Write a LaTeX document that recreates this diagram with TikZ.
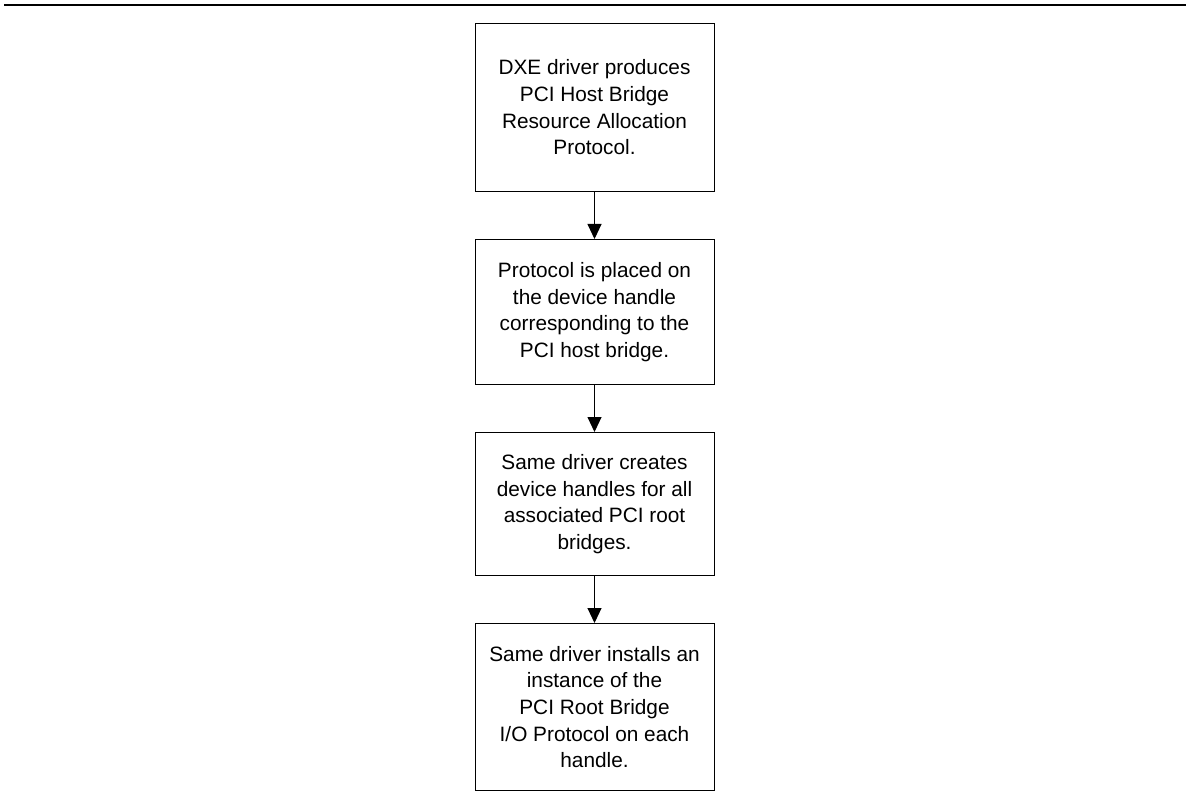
\documentclass[tikz,border=0pt]{standalone}
\usepackage{fontspec}
\setmainfont{Liberation Sans}
\usepackage{tikz}
\usetikzlibrary{arrows.meta, positioning}

\begin{document}
\begin{tikzpicture}[x=0.5pt, y=-0.5pt,
  stepbox/.style={draw, line width=0.5pt, minimum width=119.5pt, inner sep=0pt,
    align=center, font=\fontsize{10.4pt}{13.35pt}\selectfont},
  flow/.style={-{Triangle[length=7.5pt, width=7pt]}, line width=0.5pt}]
  \useasboundingbox (0,0) rectangle (1186,807);
  \draw[line width=1pt] (4,5) -- (1186,5);

  \node[stepbox, minimum height=84pt, anchor=north] (produce) at (594.5,23)
    {DXE driver produces\\PCI Host Bridge\\Resource Allocation\\Protocol.};
  \node[stepbox, minimum height=72.5pt, below=23.5pt of produce] (place)
    {Protocol is placed on\\the device handle\\corresponding to the\\PCI host bridge.};
  \node[stepbox, minimum height=71.5pt, below=23.5pt of place] (create)
    {Same driver creates\\device handles for all\\associated PCI root\\bridges.};
  \node[stepbox, minimum height=83.5pt, below=23.5pt of create] (install)
    {Same driver installs an\\instance of the\\PCI Root Bridge\\I/O Protocol on each\\handle.};

  \draw[flow] (produce) -- (place);
  \draw[flow] (place) -- (create);
  \draw[flow] (create) -- (install);
\end{tikzpicture}
\end{document}
